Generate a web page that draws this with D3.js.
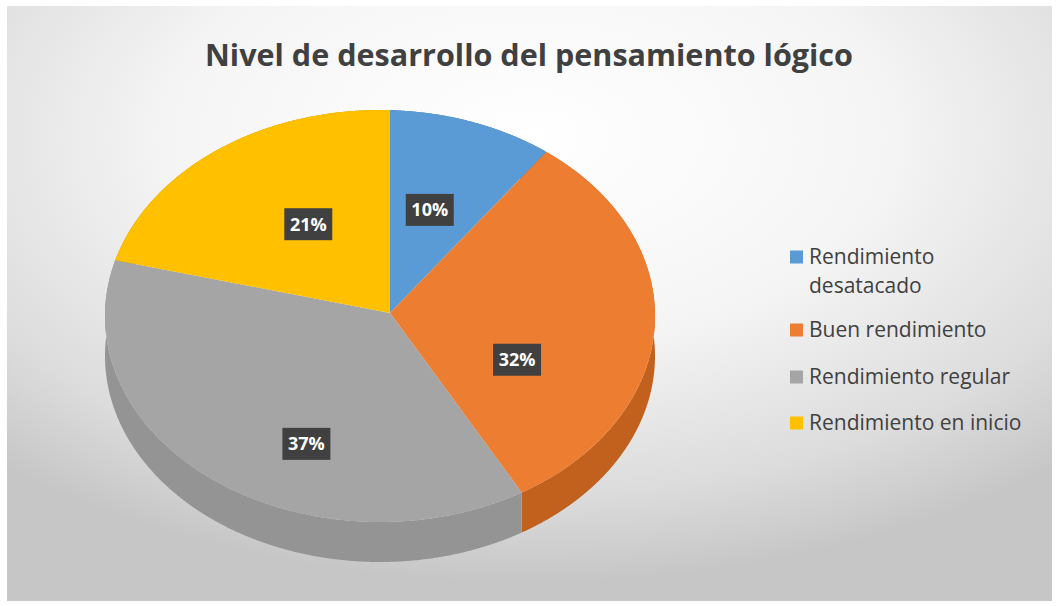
<!DOCTYPE html>
<html><head><meta charset="utf-8">
<script src="https://cdn.jsdelivr.net/npm/d3@7"></script>
<style>body{margin:0;background:#fff}svg{display:block}</style>
</head><body>
<svg id="c" width="1059" height="606"></svg>
<script>
// ---- data ----
const title = "Nivel de desarrollo del pensamiento lógico";
const categories = ["Rendimiento desatacado", "Buen rendimiento", "Rendimiento regular", "Rendimiento en inicio"];
const values = [10, 32, 37, 21];
const valueLabels = ["10%", "32%", "37%", "21%"];
const legendLines = [["Rendimiento", "desatacado"], ["Buen rendimiento"], ["Rendimiento regular"], ["Rendimiento en inicio"]];

// ---- style / layout ----
const colors = ["#5B9BD5", "#ED7D31", "#A5A5A5", "#FFC000"];
const sideColors = ["#41729f", "#c2611d", "#949494", "#bf9000"];
const W = 1059, H = 606;
const E = {cx: 380, cy: 316, rx: 275, ry: 206};
const apex = {x: 390, y: 313};
const depth = 40;

const svg = d3.select("#c");
const defs = svg.append("defs");
const rg = defs.append("radialGradient").attr("id", "bg")
  .attr("cx", "50%").attr("cy", "22%").attr("r", "75%").attr("fx", "50%").attr("fy", "22%");
rg.append("stop").attr("offset", "0").attr("stop-color", "#ffffff");
rg.append("stop").attr("offset", "0.45").attr("stop-color", "#f5f5f5");
rg.append("stop").attr("offset", "0.8").attr("stop-color", "#dcdcdc");
rg.append("stop").attr("offset", "1").attr("stop-color", "#c6c6c6");

svg.append("rect").attr("width", W).attr("height", H).attr("fill", "#fff");
svg.append("rect").attr("x", 7).attr("y", 6).attr("width", 1045).attr("height", 595).attr("fill", "url(#bg)");

// ray from apex at pie angle theta -> point on ellipse rim
function rim(theta) {
  const dx = Math.sin(theta) * E.rx, dy = -Math.cos(theta) * E.ry;
  const px = apex.x - E.cx, py = apex.y - E.cy;
  const a = (dx / E.rx) ** 2 + (dy / E.ry) ** 2;
  const b = 2 * (px * dx / (E.rx * E.rx) + py * dy / (E.ry * E.ry));
  const c = (px / E.rx) ** 2 + (py / E.ry) ** 2 - 1;
  const t = (-b + Math.sqrt(b * b - 4 * a * c)) / (2 * a);
  return [apex.x + t * dx, apex.y + t * dy];
}

const arcs = d3.pie().sort(null).value(d => d)(values);
const step = Math.PI / 720;
function rimPts(d) {
  const n = Math.max(2, Math.ceil((d.endAngle - d.startAngle) / step));
  return d3.range(n + 1).map(i => rim(d.startAngle + (d.endAngle - d.startAngle) * i / n));
}
const line = d3.line().curve(d3.curveLinearClosed);

// sides
const g = svg.append("g");
g.selectAll("path.side").data(arcs).join("path").attr("class", "side")
  .attr("d", d => {
    const p = rimPts(d);
    const low = p.map(q => [q[0], q[1] + depth]).reverse();
    return line(p.concat(low));
  })
  .attr("fill", (d, i) => sideColors[i]);

// tops
g.selectAll("path.top").data(arcs).join("path").attr("class", "top")
  .attr("d", d => line([[apex.x, apex.y]].concat(rimPts(d))))
  .attr("fill", (d, i) => colors[i]);

// labels: centred in slice; front-facing slices anchored at the pie's lower face
const fx = 0.48, fy = 0.54;
const lab = g.selectAll("g.lab").data(arcs).join("g").attr("class", "lab")
  .attr("transform", d => {
    const m = (d.startAngle + d.endAngle) / 2;
    const r = rim(m);
    const front = Math.cos(m) < 0 ? depth : 0;
    return `translate(${apex.x + fx * (r[0] - apex.x)},${apex.y + fy * (r[1] - apex.y) + front})`;
  });
lab.append("rect").attr("x", -24).attr("y", -16).attr("width", 48).attr("height", 32).attr("fill", "#404040");
lab.append("text").attr("text-anchor", "middle").attr("dy", "0.36em")
  .attr("font-family", "Open Sans").attr("font-weight", 700).attr("font-size", 18)
  .attr("fill", "#fff").text((d, i) => valueLabels[i]);

// title
svg.append("text").attr("x", 529).attr("y", 66).attr("text-anchor", "middle")
  .attr("font-family", "Open Sans").attr("font-weight", 700).attr("font-size", 31)
  .attr("fill", "#404040").attr("textLength", 648).attr("lengthAdjust", "spacingAndGlyphs")
  .text(title);

// legend
const ly = [257, 330, 377, 423];
const leg = svg.append("g").selectAll("g").data(categories).join("g")
  .attr("transform", (d, i) => `translate(790,${ly[i]})`);
leg.append("rect").attr("x", 0).attr("y", -6.5).attr("width", 13).attr("height", 13).attr("fill", (d, i) => colors[i]);
leg.append("text").attr("y", 7)
  .attr("font-family", "Open Sans").attr("font-size", 21).attr("fill", "#404040")
  .selectAll("tspan").data((d, i) => legendLines[i]).join("tspan")
  .attr("x", 19).attr("dy", (t, j) => j === 0 ? 0 : 29).text(t => t);
</script>
</body></html>
